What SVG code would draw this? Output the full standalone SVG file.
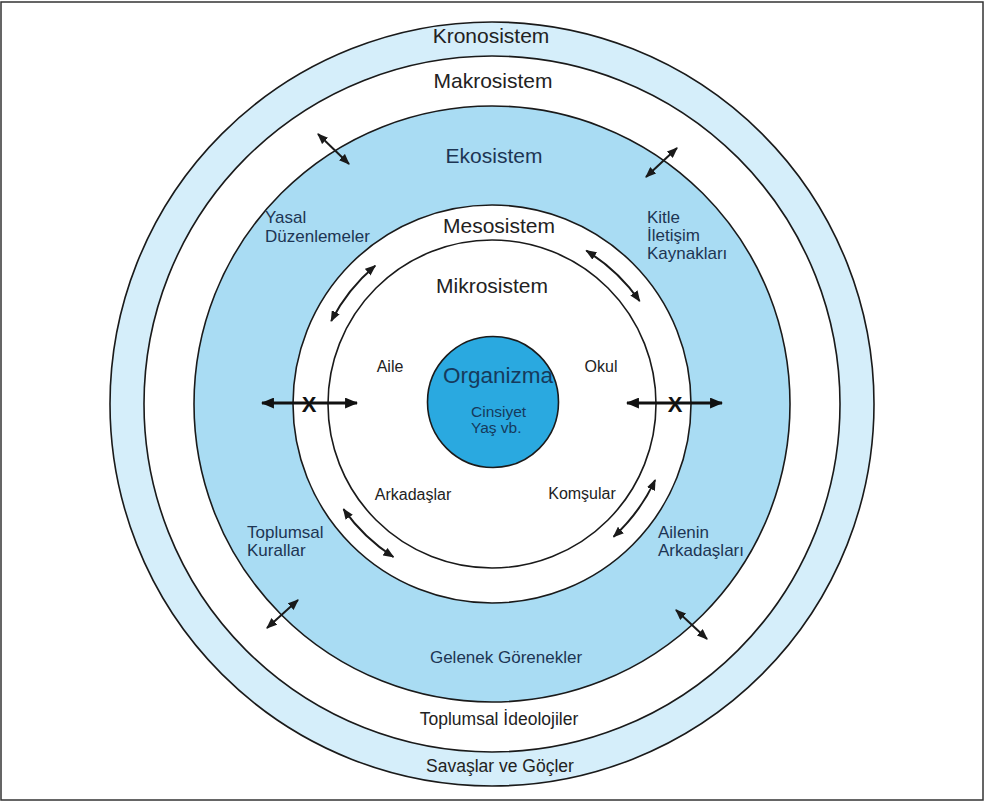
<svg xmlns="http://www.w3.org/2000/svg" width="984" height="802" viewBox="0 0 984 802">
<style>
.ring{stroke:#1a1a1a;stroke-width:1.6}
.t{font-family:"Liberation Sans",Arial,sans-serif;fill:#222}
.big{font-size:21px}
.mid{font-size:16px}
.eko{font-size:17px;fill:#1d3553}
.bot{font-size:17.5px}
.conn{fill:none;stroke:#1a1a1a;stroke-width:2}
.xline{fill:none;stroke:#111;stroke-width:3}
.xm{font-family:"Liberation Sans",Arial,sans-serif;font-size:22px;font-weight:bold;fill:#111}
</style>
<defs>
<marker id="ah" viewBox="0 0 10 8" refX="9" refY="4" markerWidth="11" markerHeight="9" markerUnits="userSpaceOnUse" orient="auto-start-reverse">
<path d="M0,0 L10,4 L0,8 z" fill="#1a1a1a"/>
</marker>
<marker id="ahx" viewBox="0 0 12 10" refX="11" refY="5" markerWidth="13" markerHeight="11" markerUnits="userSpaceOnUse" orient="auto-start-reverse">
<path d="M0,0 L12,5 L0,10 z" fill="#111"/>
</marker>
</defs>
<rect x="0" y="0" width="984" height="802" fill="#fff"/>
<rect x="1" y="2" width="982" height="798" fill="none" stroke="#333" stroke-width="1.5"/>

<g id="kronosistem">
<circle class="ring" cx="492" cy="404" r="382" fill="#d5eefa"/>
<text class="t big" x="491" y="43" text-anchor="middle">Kronosistem</text>
<text class="t bot" x="500" y="772" text-anchor="middle">Savaşlar ve Göçler</text>
</g>
<g id="makrosistem">
<circle class="ring" cx="492" cy="404" r="348" fill="#ffffff"/>
<text class="t big" x="493" y="88" text-anchor="middle">Makrosistem</text>
<text class="t bot" x="499" y="725" text-anchor="middle">Toplumsal İdeolojiler</text>
</g>
<g id="ekosistem">
<circle class="ring" cx="492" cy="404" r="298" fill="#a9dcf3"/>
<text class="t big" x="494" y="163" text-anchor="middle" style="fill:#1d3553">Ekosistem</text>
<text class="t eko" x="265" y="223">Yasal</text>
<text class="t eko" x="265" y="242">Düzenlemeler</text>
<text class="t eko" x="647" y="223">Kitle</text>
<text class="t eko" x="647" y="241">İletişim</text>
<text class="t eko" x="647" y="259">Kaynakları</text>
<text class="t eko" x="247" y="538">Toplumsal</text>
<text class="t eko" x="247" y="556">Kurallar</text>
<text class="t eko" x="658" y="538">Ailenin</text>
<text class="t eko" x="658" y="556">Arkadaşları</text>
<text class="t eko" x="506" y="663" text-anchor="middle">Gelenek Görenekler</text>
</g>
<g id="mesosistem">
<circle class="ring" cx="492" cy="404" r="199" fill="#ffffff"/>
<text class="t big" x="499" y="233" text-anchor="middle">Mesosistem</text>
</g>
<g id="mikrosistem">
<circle class="ring" cx="492" cy="404" r="164" fill="#ffffff"/>
<text class="t big" x="492" y="293" text-anchor="middle">Mikrosistem</text>
<text class="t mid" x="390" y="372" text-anchor="middle">Aile</text>
<text class="t mid" x="601" y="372" text-anchor="middle">Okul</text>
<text class="t mid" x="413" y="500" text-anchor="middle">Arkadaşlar</text>
<text class="t mid" x="582" y="499" text-anchor="middle">Komşular</text>
</g>
<g id="organizma">
<circle class="ring" cx="493" cy="402" r="65.5" fill="#2aa9e0"/>
<text class="t" x="498" y="383" text-anchor="middle" font-size="22.5" style="fill:#163a5c">Organizma</text>
<text class="t" x="471" y="417" font-size="15.5" style="fill:#163a5c">Cinsiyet</text>
<text class="t" x="471" y="433" font-size="15.5" style="fill:#163a5c">Yaş vb.</text>
</g>

<g id="connectors">
<line class="conn" x1="318" y1="134" x2="349" y2="164" marker-start="url(#ah)" marker-end="url(#ah)"/>
<line class="conn" x1="677" y1="148" x2="646" y2="177" marker-start="url(#ah)" marker-end="url(#ah)"/>
<line class="conn" x1="298" y1="600" x2="267" y2="628" marker-start="url(#ah)" marker-end="url(#ah)"/>
<line class="conn" x1="676" y1="610" x2="707" y2="639" marker-start="url(#ah)" marker-end="url(#ah)"/>
<path class="conn" d="M331.2,321 A181,181 0 0 1 375.2,265.8" marker-start="url(#ah)" marker-end="url(#ah)"/>
<path class="conn" d="M586.3,250.7 A180,180 0 0 1 639.6,301" marker-start="url(#ah)" marker-end="url(#ah)"/>
<path class="conn" d="M393.4,557 A182,182 0 0 1 343.5,509.2" marker-start="url(#ah)" marker-end="url(#ah)"/>
<path class="conn" d="M655.1,480.1 A180,180 0 0 1 613.6,536.7" marker-start="url(#ah)" marker-end="url(#ah)"/>
<line class="xline" x1="262" y1="403" x2="357" y2="403" marker-start="url(#ahx)" marker-end="url(#ahx)"/>
<line class="xline" x1="627" y1="403" x2="722" y2="403" marker-start="url(#ahx)" marker-end="url(#ahx)"/>
<text class="xm" x="309" y="412" text-anchor="middle">X</text>
<text class="xm" x="675" y="412" text-anchor="middle">X</text>
</g>
</svg>
